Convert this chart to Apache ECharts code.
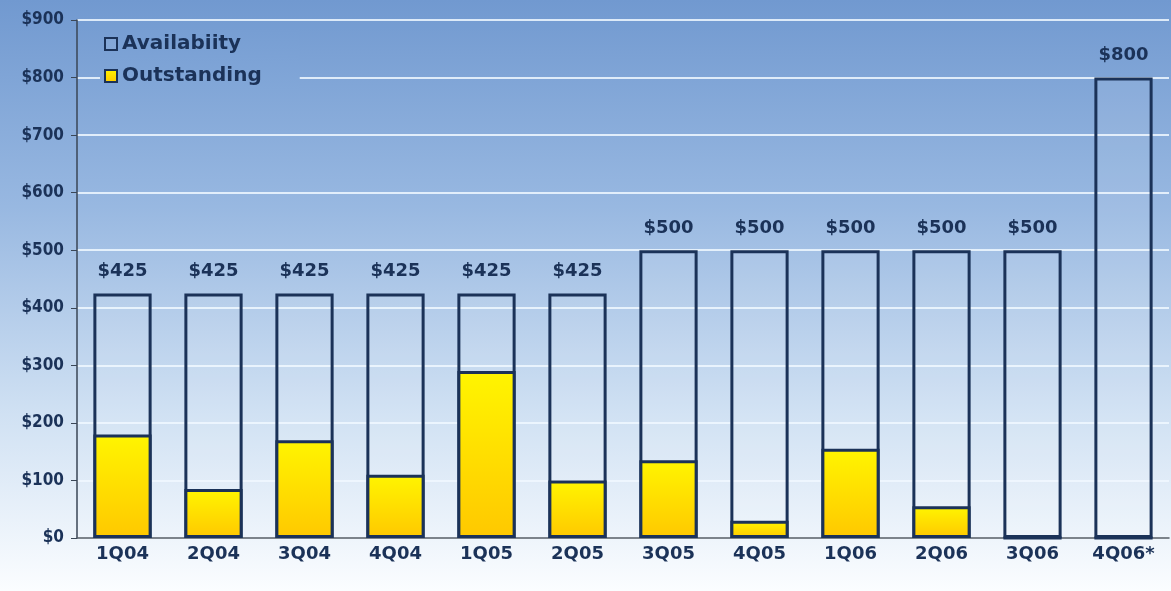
<!DOCTYPE html>
<html><head><meta charset="utf-8">
<script src="https://cdn.jsdelivr.net/npm/echarts@6/dist/echarts.min.js"></script>
<style>html,body{margin:0;padding:0;}#c{width:1171px;height:591px;}</style>
</head><body><div id="c"></div>
<script>
const categories = ['1Q04','2Q04','3Q04','4Q04','1Q05','2Q05','3Q05','4Q05','1Q06','2Q06','3Q06','4Q06*'];
const availability = [425,425,425,425,425,425,500,500,500,500,500,800];
const outstanding = [180,85,170,110,290,100,135,30,155,55,0,0];
const yTicks = [0,100,200,300,400,500,600,700,800,900];

const navy = '#1b3258';
const chart = echarts.init(document.getElementById('c'));
chart.setOption({
  backgroundColor: {type:'linear',x:0,y:0,x2:0,y2:1,colorStops:[
    {offset:0,color:'#7199d0'},{offset:0.35,color:'#98b8e1'},{offset:0.7,color:'#d0e1f3'},{offset:1,color:'#fbfdff'}]},
  animation:false,
  grid:{left:77,right:2,top:20,bottom:53},
  legend:{
    orient:'vertical', left:100, top:30, itemGap:12, itemWidth:12, itemHeight:12,
    backgroundColor:{type:'linear',x:0,y:0,x2:0,y2:1,colorStops:[{offset:0,color:'#779ed3'},{offset:1,color:'#82a7d8'}]},
    padding:[4,38,4,4],
    textStyle:{color:navy,fontSize:20,fontWeight:'bold',fontFamily:'DejaVu Sans'},
    data:[{name:'Availabiity',icon:'rect'},{name:'Outstanding',icon:'rect'}]
  },
  xAxis:{type:'category',data:categories,
    axisLine:{show:true,lineStyle:{color:'#555c66',width:1.5}},
    axisTick:{show:false},
    axisLabel:{color:navy,fontSize:18,fontWeight:'bold',fontFamily:'DejaVu Sans',margin:7}},
  yAxis:{type:'value',min:0,max:900,interval:100,
    axisLine:{show:true,lineStyle:{color:'#3a4656',width:1.5}},
    axisTick:{show:true,length:6,lineStyle:{color:'#3a4656'}},
    splitLine:{show:true,lineStyle:{color:'rgba(240,248,255,0.85)',width:2}},
    axisLabel:{color:navy,fontSize:17,fontWeight:'bold',fontFamily:'DejaVu Sans Condensed',margin:13,
      formatter:v=>yTicks.indexOf(v)>=0?'$'+v:''}},
  series:[
    {name:'Availabiity',type:'bar',data:availability,barWidth:'64%',barGap:'-100%',z:2,
      itemStyle:{color:'rgba(255,255,255,0.08)',borderColor:navy,borderWidth:3},
      label:{show:true,position:'top',distance:13,color:navy,fontSize:18,fontWeight:'bold',fontFamily:'DejaVu Sans',formatter:p=>'$'+p.value}},
    {name:'Outstanding',type:'bar',data:outstanding,barWidth:'64%',barGap:'-100%',z:3,
      itemStyle:{color:{type:'linear',x:0,y:0,x2:0,y2:1,colorStops:[{offset:0,color:'#fff500'},{offset:1,color:'#ffc800'}]},
        borderColor:navy,borderWidth:3}}
  ]
});
</script></body></html>
